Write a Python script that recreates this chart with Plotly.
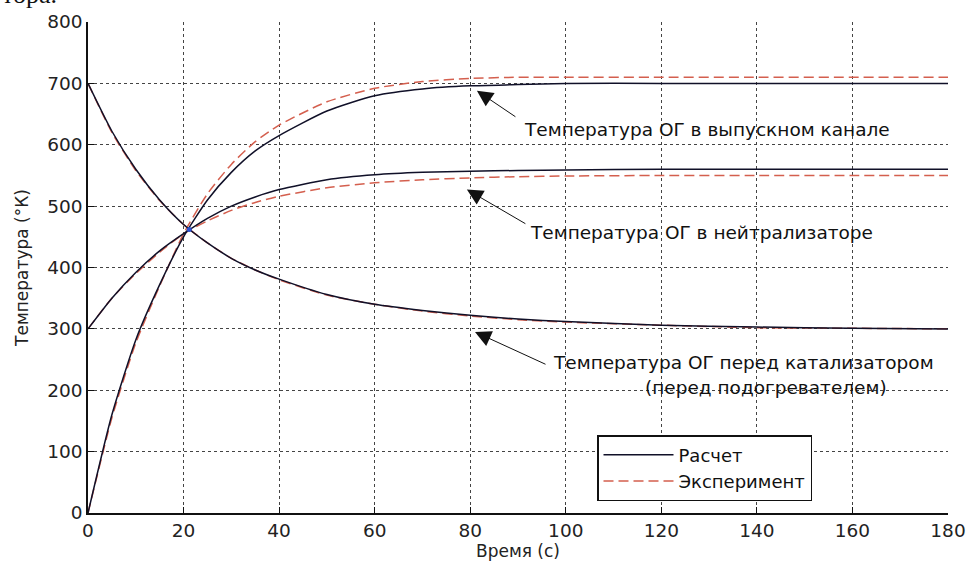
import plotly.graph_objects as go

# time points (s)
t = [0, 5, 10, 15, 20, 25, 30, 35, 40, 50, 60, 70, 80, 90, 100, 120, 140, 160, 180]

# Temperature of exhaust gas in exhaust channel
exh_calc = [0, 160, 282, 372, 450, 510, 555, 590, 615, 655, 680, 691, 696, 698, 700, 700, 700, 700, 700]
exh_exp = [0, 155, 277, 370, 455, 520, 568, 605, 632, 670, 692, 703, 708, 710, 710, 710, 710, 710, 710]

# Temperature in neutralizer
neu_calc = [300, 350, 392, 427, 455, 480, 500, 515, 527, 543, 551, 555, 557, 558, 559, 560, 560, 560, 560]
neu_exp = [300, 350, 390, 425, 455, 476, 493, 506, 516, 530, 538, 543, 546, 548, 549, 550, 550, 550, 550]

# Temperature before catalyst
cat_calc = [700, 622, 560, 510, 470, 440, 415, 396, 381, 356, 340, 330, 322, 316, 312, 306, 303, 301, 300]
cat_exp = [700, 620, 558, 509, 470, 440, 415, 396, 380, 355, 340, 329, 321, 315, 311, 306, 302, 301, 300]

x_ticks = [0, 20, 40, 60, 80, 100, 120, 140, 160, 180]
y_ticks = [0, 100, 200, 300, 400, 500, 600, 700, 800]

calc_color = "#101028"
exp_color = "#d45f4e"
FONT = "DejaVu Sans"

fig = go.Figure()

for i, ys in enumerate([exh_exp, neu_exp, cat_exp]):
    fig.add_trace(go.Scatter(
        x=t, y=ys, mode="lines", line=dict(color=exp_color, width=1.5, dash="10px,5px", shape="spline", smoothing=0.6),
        name="Эксперимент", showlegend=(i == 0), legendrank=2))
for i, ys in enumerate([exh_calc, neu_calc, cat_calc]):
    fig.add_trace(go.Scatter(
        x=t, y=ys, mode="lines", line=dict(color=calc_color, width=1.5, shape="spline", smoothing=0.6),
        name="Расчет", showlegend=(i == 0), legendrank=1))

# small blue mark at the crossing point
fig.add_trace(go.Scatter(x=[21.2], y=[462], mode="markers", marker=dict(color="#2a4fd0", size=5),
                         showlegend=False, hoverinfo="skip"))

arrow_common = dict(showarrow=True, arrowhead=2, arrowsize=3.2, arrowwidth=1, arrowcolor="#111",
                    xref="x", yref="y", axref="pixel", ayref="pixel", text="")
fig.add_annotation(x=81.4, y=688, ax=40, ay=27, **arrow_common)
fig.add_annotation(x=79.3, y=527, ax=60, ay=35, **arrow_common)
fig.add_annotation(x=81.0, y=295, ax=72, ay=33, **arrow_common)

txt_font = dict(family=FONT, size=18.5, color="#111")
fig.add_annotation(x=129.6, y=625, text="Температура ОГ в выпускном канале", showarrow=False, font=txt_font)
fig.add_annotation(x=128.5, y=457, text="Температура ОГ в нейтрализаторе", showarrow=False, font=txt_font)
fig.add_annotation(x=137.3, y=245, text="Температура ОГ перед катализатором", showarrow=False, font=txt_font)
fig.add_annotation(x=141.9, y=204, text="(перед подогревателем)", showarrow=False, font=txt_font)

# fragment of the page text above the figure
fig.add_annotation(xref="paper", yref="paper", x=-88/860, y=1 + 11/491, xanchor="left", yanchor="bottom",
                   text="тора.", showarrow=False, font=dict(family="Liberation Serif", size=26, color="#111"))

axis_common = dict(showline=True, linecolor="#111", linewidth=1.5, ticks="inside", ticklen=6, tickcolor="#111",
                   showgrid=True, gridcolor="#444", griddash="dot", gridwidth=1, zeroline=False,
                   tickfont=dict(family=FONT, size=18.5, color="#222"), mirror=False, automargin=False)

fig.update_xaxes(range=[0, 180], tickvals=x_ticks, title=dict(text="Время (с)", font=dict(family=FONT, size=17, color="#222"), standoff=2),
                 **axis_common)
fig.update_yaxes(range=[0, 800], tickvals=y_ticks, title=dict(text="Температура (°К)", font=dict(family=FONT, size=17, color="#222"), standoff=14),
                 **axis_common)

fig.update_layout(
    width=968, height=561,
    margin=dict(l=88, r=20, t=22, b=48, autoexpand=False),
    plot_bgcolor="white", paper_bgcolor="white",
    font=dict(family=FONT, color="#111"),
    legend=dict(x=(597 - 88) / 860, y=(513 - 435) / 491, xanchor="left", yanchor="top",
                bordercolor="#111", borderwidth=1.5, bgcolor="white",
                font=dict(family=FONT, size=18, color="#111"), itemwidth=70,
                tracegroupgap=0, traceorder="normal"),
)

fig.write_html("out.html", config={"displayModeBar": False},
               post_script="document.body.style.margin='0';document.body.style.overflow='hidden';")
